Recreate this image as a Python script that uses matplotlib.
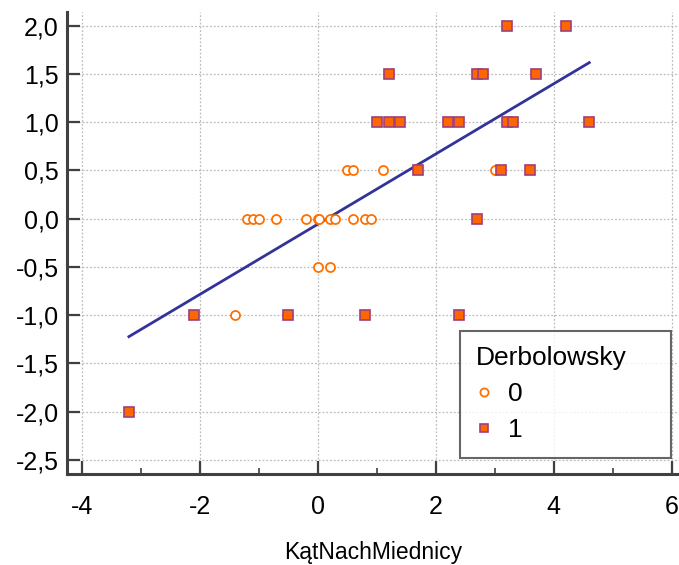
import matplotlib
matplotlib.use('Agg')
import matplotlib.pyplot as plt
from matplotlib.ticker import MultipleLocator, FuncFormatter
import numpy as np

plt.rcParams['font.family'] = ['Liberation Sans', 'DejaVu Sans']
plt.rcParams['axes.unicode_minus'] = False

# Derbolowsky = 0
x0 = [0.5, 0.6, 1.1, 3.0,
      -1.2, -1.1, -1.0, -0.7, -0.2, 0.0, 0.02, 0.2, 0.3, 0.6, 0.8, 0.9,
      0.0, 0.2,
      -1.4]
y0 = [0.5, 0.5, 0.5, 0.5,
      0.0, 0.0, 0.0, 0.0, 0.0, 0.0, 0.0, 0.0, 0.0, 0.0, 0.0, 0.0,
      -0.5, -0.5,
      -1.0]

# Derbolowsky = 1
x1 = [3.2, 4.2,
      1.2, 2.7, 2.8, 3.7,
      1.0, 1.2, 1.4, 2.2, 2.4, 3.2, 3.3, 4.6,
      1.7, 3.1, 3.6,
      2.7,
      -2.1, -0.5, 0.8, 2.4,
      -3.2]
y1 = [2.0, 2.0,
      1.5, 1.5, 1.5, 1.5,
      1.0, 1.0, 1.0, 1.0, 1.0, 1.0, 1.0, 1.0,
      0.5, 0.5, 0.5,
      0.0,
      -1.0, -1.0, -1.0, -1.0,
      -2.0]

# regression line
fit_slope = 0.364
fit_icpt = -0.057

xall = np.array(x0 + x1)

fig = plt.figure(figsize=(6.79, 5.65), dpi=100)
ax = fig.add_axes([0.0991, 0.1611, 0.9009, 0.8177])

ax.grid(True, color='#bcbcbc', linestyle=(0, (1.5, 1.5)), linewidth=0.9)
ax.set_axisbelow(True)

xl = np.array([xall.min(), xall.max()])
ax.plot(xl, fit_icpt + fit_slope * xl, color='#333399', lw=2.0, zorder=3)

ax.plot(x0, y0, 'o', ms=6.5, mfc='white', mec='#ff7000', mew=1.3,
        linestyle='none', label='0', zorder=4)
ax.plot(x1, y1, 's', ms=6.7, mfc='#ff6600', mec='#9e3f7a', mew=1.2,
        linestyle='none', label='1', zorder=4)

ax.set_xlim(-4.244, 6.12)
ax.set_ylim(-2.645, 2.142)
ax.xaxis.set_major_locator(MultipleLocator(2))
ax.xaxis.set_minor_locator(MultipleLocator(1))
ax.yaxis.set_major_locator(MultipleLocator(0.5))
ax.yaxis.set_major_formatter(FuncFormatter(lambda v, p: ('%.1f' % v).replace('.', ',')))

for s in ['top', 'right']:
    ax.spines[s].set_visible(False)
for s in ['left', 'bottom']:
    ax.spines[s].set_color('#404040')
    ax.spines[s].set_linewidth(2.2)

ax.tick_params(which='major', direction='in', length=9.5, width=1.6,
               color='#404040', labelsize=18)
ax.tick_params(which='minor', direction='in', length=4.5, width=1.2,
               color='#404040')
ax.tick_params(axis='x', which='major', pad=15)
ax.tick_params(axis='y', which='major', pad=6)

ax.set_xlabel('KątNachMiednicy', fontsize=16.5, labelpad=16)

leg = ax.legend(title='Derbolowsky', loc='lower left', mode='expand',
                bbox_to_anchor=(0.642, 0.0346, 0.3445, 0.28), frameon=True,
                fancybox=False, fontsize=19, title_fontsize=19,
                handlelength=0.6, handletextpad=0.6, borderpad=0.6,
                labelspacing=0.45, markerscale=0.9, borderaxespad=0)
leg.get_frame().set_edgecolor('#404040')
leg.get_frame().set_linewidth(1.5)
leg._legend_box.align = 'left'

fig.savefig('out.png', dpi=100)
